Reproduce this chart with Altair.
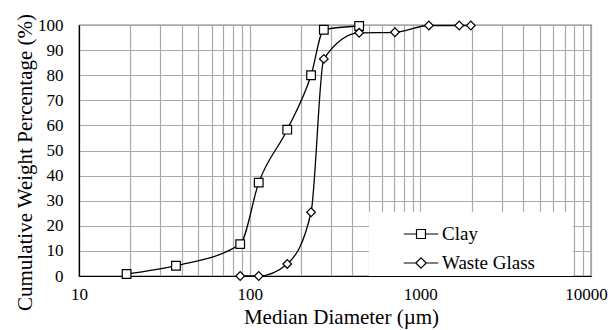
import altair as alt
import pandas as pd

clay_d = [19, 37, 88, 113, 166, 229, 272, 438]
clay_p = [0.8, 4.1, 12.7, 37.2, 58.3, 80.0, 98.1, 99.6]
glass_d = [88, 113, 166, 229, 272, 438, 710, 1122, 1690, 1977]
glass_p = [0.0, 0.0, 4.8, 25.4, 86.5, 96.9, 97.1, 99.8, 99.8, 99.8]
series_names = ["Clay", "Waste Glass"]
x_grid_values = [m * 10 ** e for e in range(1, 4) for m in range(1, 10)] + [10000]
y_ticks = list(range(0, 101, 10))
legend_box_x = [500, 7830]
legend_box_y = [0, 25.5]

df = pd.DataFrame({
    "d": clay_d + glass_d,
    "p": clay_p + glass_p,
    "series": ["Clay"] * len(clay_d) + ["Waste Glass"] * len(glass_d),
})
box = pd.DataFrame({"d": [legend_box_x[0]], "d2": [legend_box_x[1]],
                    "p": [legend_box_y[0]], "p2": [legend_box_y[1]]})

FONT = "Liberation Serif"
label_expr = "indexof(['10','100','1000','10000'], datum.label) >= 0 ? datum.label : ''"

x_scale = alt.Scale(type="log", domain=[10, 10000], nice=False)
y_scale = alt.Scale(domain=[0, 100], nice=False)
x_axis = alt.Axis(values=x_grid_values, labelExpr=label_expr, format="d",
                  title="Median Diameter (\u00b5m)", ticks=False,
                  labelPadding=10, grid=True,
                  labelFlush=False, labelOverlap=False,
                  labelOffset={"condition": {"test": "datum.value >= 10000", "value": -5}, "value": 0},
                  titleX=262, titleY=47, titleFontSize=21, titleBaseline="alphabetic")
y_axis = alt.Axis(values=y_ticks, title="Cumulative Weight Percentage (%)",
                  ticks=False, labelPadding=16, grid=True, labelOverlap=False,
                  titleFontSize=21, titleX=-65, titleY=137, titleBaseline="top")
x_enc = alt.X("d:Q", scale=x_scale, axis=x_axis)
y_enc = alt.Y("p:Q", scale=y_scale, axis=y_axis)

rect = alt.Chart(box).mark_rect(fill="white").encode(
    x=x_enc, x2="d2:Q", y=y_enc, y2="p2:Q")

lines = alt.Chart(df).mark_line(interpolate="monotone", color="black", strokeWidth=1.3).encode(
    x=x_enc, y=y_enc, detail="series:N")

points = alt.Chart(df).mark_point(filled=True, fill="white", stroke="black",
                                   strokeWidth=1.2, size=75, opacity=1).encode(
    x=x_enc, y=y_enc,
    shape=alt.Shape("series:N", scale=alt.Scale(domain=series_names, range=["square", "diamond"]),
                    legend=None))

sq = "M-1,0H-0.26M-0.26,-0.26H0.26V0.26H-0.26ZM0.26,0H1"
dm = "M-1,0H-0.3M-0.3,0L0,-0.3L0.3,0L0,0.3ZM0.3,0H1"
legend_layer = alt.Chart(df).mark_point(opacity=0, filled=False).encode(
    x=x_enc, y=y_enc,
    shape=alt.Shape("series:N", scale=alt.Scale(domain=series_names, range=[sq, dm]),
                    legend=alt.Legend(title=None, orient="none", legendX=324, legendY=191,
                                      symbolSize=1190, symbolOpacity=1,
                                      symbolFillColor="white", symbolStrokeColor="black",
                                      symbolStrokeWidth=1.2, labelFont=FONT, labelFontSize=19,
                                      labelColor="black", labelOffset=3, rowPadding=1,
                                      padding=0)))

chart = alt.layer(rect, lines, points, legend_layer).resolve_scale(shape="independent").properties(
    width=512, height=251,
    background="white",
    autosize=alt.AutoSizeParams(type="none"),
    padding={"left": 79, "top": 25, "right": 17, "bottom": 54},
).configure_view(stroke="black", strokeWidth=1.2).configure_axis(
    gridColor="#a9a9a9", gridWidth=1.2, domainColor="black", domainWidth=1.2,
    labelFont=FONT, labelFontSize=17, labelColor="black",
    titleFont=FONT, titleColor="black", titleFontWeight="normal",
)

chart.save("out.html", embed_options={"renderer": "svg", "actions": False})
